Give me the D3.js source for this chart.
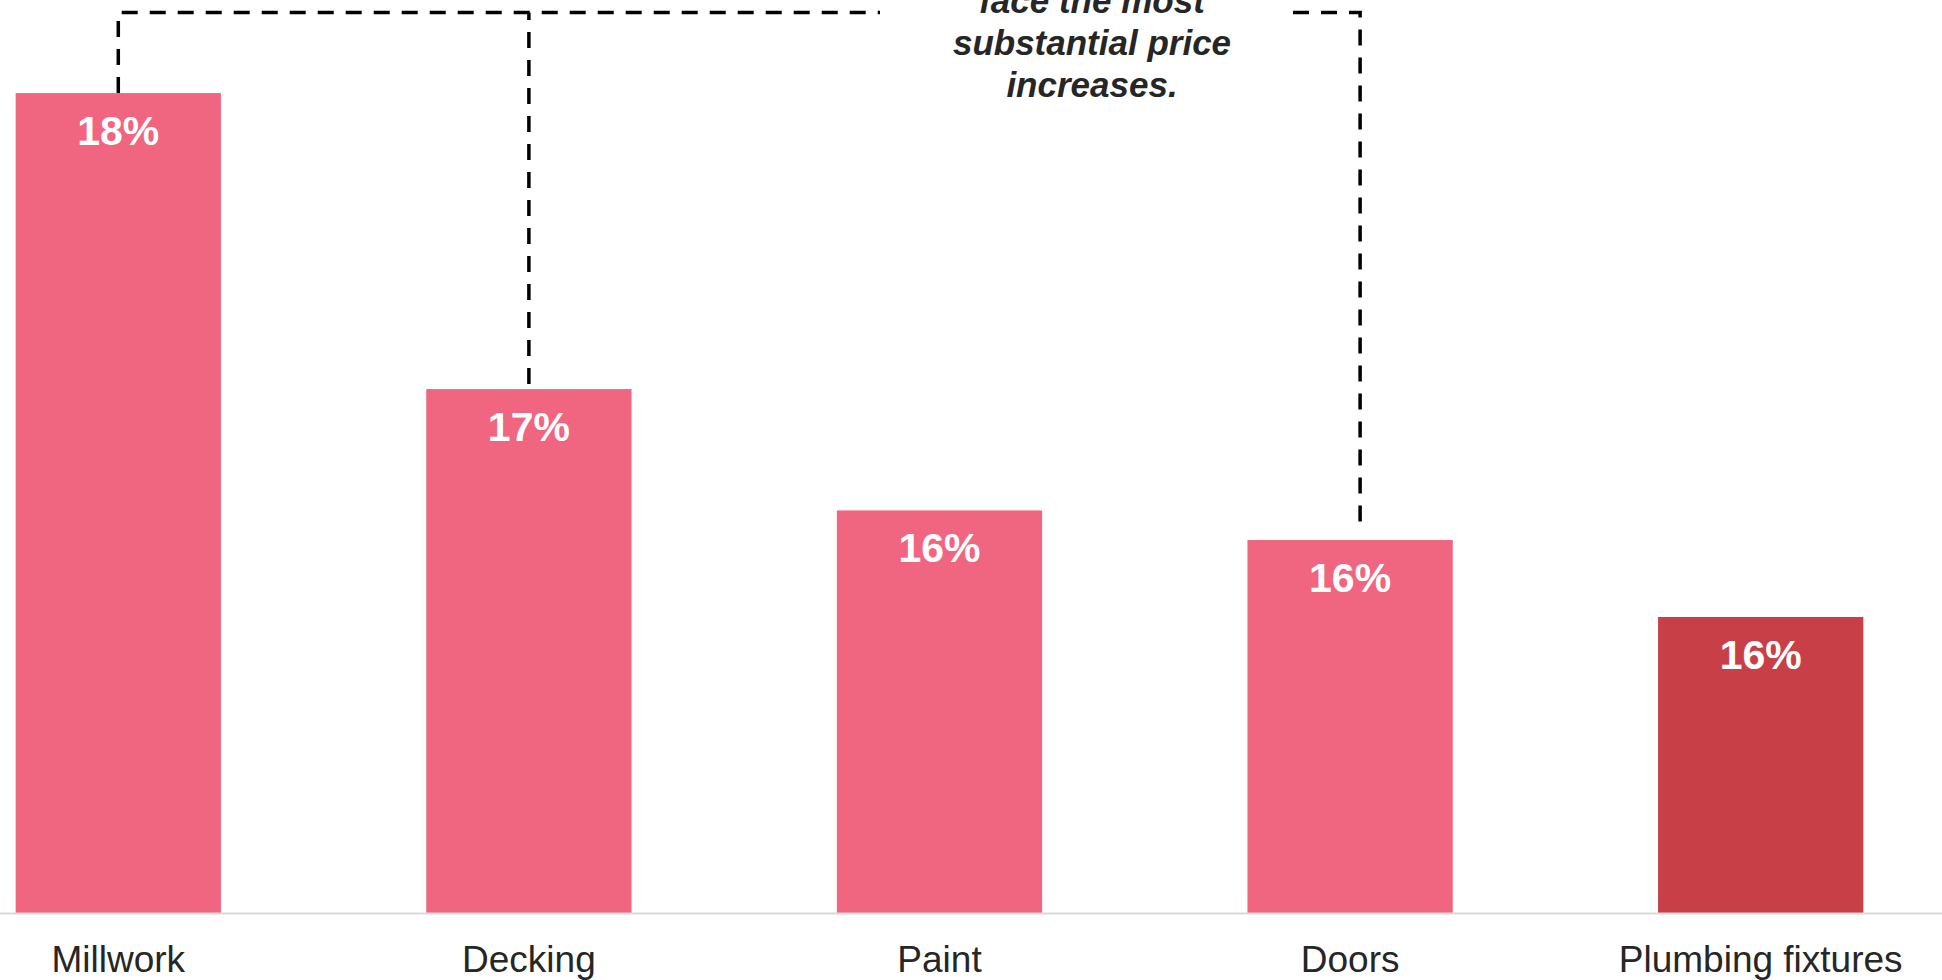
<!DOCTYPE html>
<html>
<head>
<meta charset="utf-8">
<script src="https://cdn.jsdelivr.net/npm/d3@7"></script>
<style>
  html, body { margin: 0; padding: 0; background: #ffffff; overflow: hidden; }
  svg { display: block; }
</style>
</head>
<body>
<svg id="chart" width="1942" height="980"></svg>
<script>
// ---- Data ----
const categories = ["Millwork", "Decking", "Paint", "Doors", "Plumbing fixtures"];
const values = [17.67, 16.67, 16.26, 16.16, 15.9];
const highlighted = [false, false, false, false, true];
const annotationLines = ["face the most", "substantial price", "increases."];

// ---- Layout ----
const W = 1942, H = 980;
const baseline = 913;
const svg = d3.select("#chart");

const x = d3.scaleBand()
  .domain(categories)
  .range([-87, 1966])
  .paddingInner(0.5)
  .paddingOuter(0.25);

const y = d3.scaleLinear()
  .domain([14.9, 18])
  .range([baseline, baseline - 3.1 * 296]);

const pink = "#F06680";
const red = "#C83F48";
const fontFamily = "'Liberation Sans', Arial, Helvetica, sans-serif";

// ---- Bars ----
svg.append("g").selectAll("rect")
  .data(categories)
  .join("rect")
  .attr("x", d => x(d))
  .attr("y", (d, i) => y(values[i]))
  .attr("width", x.bandwidth())
  .attr("height", (d, i) => baseline - y(values[i]))
  .attr("fill", (d, i) => highlighted[i] ? red : pink);

// ---- Baseline ----
svg.append("line")
  .attr("x1", 0).attr("x2", W)
  .attr("y1", baseline + 0.5).attr("y2", baseline + 0.5)
  .attr("stroke", "#d9d9d9")
  .attr("stroke-width", 2);

// ---- Value labels ----
const fmt = v => d3.format(".0f")(v) + "%";
svg.append("g").selectAll("text")
  .data(categories)
  .join("text")
  .attr("x", d => x(d) + x.bandwidth() / 2)
  .attr("y", (d, i) => y(values[i]) + 52)
  .attr("text-anchor", "middle")
  .attr("font-family", fontFamily)
  .attr("font-weight", "bold")
  .attr("font-size", 41)
  .attr("fill", "#ffffff")
  .text((d, i) => fmt(values[i]));

// ---- Category axis labels ----
const xAxis = d3.axisBottom(x).tickSize(0).tickPadding(0);
const gAxis = svg.append("g")
  .attr("transform", `translate(0, ${baseline})`)
  .call(xAxis);
gAxis.select(".domain").remove();
gAxis.selectAll("text")
  .attr("dy", null)
  .attr("y", 59)
  .attr("font-family", fontFamily)
  .attr("font-size", 37)
  .attr("fill", "#262626");

// ---- Annotation ----
const topY = 12.5;
const textCx = 1092;
const cx = c => x(c) + x.bandwidth() / 2;
const vy = c => y(values[categories.indexOf(c)]);

const dashG = svg.append("g")
  .attr("fill", "none")
  .attr("stroke", "#000")
  .attr("stroke-width", 3.5)
  .attr("stroke-dasharray", "16,12");

const p1 = d3.path();
p1.moveTo(cx("Millwork"), vy("Millwork"));
p1.lineTo(cx("Millwork"), topY);
p1.lineTo(textCx - 212, topY);
dashG.append("path").attr("d", p1.toString());

const p2 = d3.path();
p2.moveTo(cx("Decking"), vy("Decking") - 5);
p2.lineTo(cx("Decking"), topY);
dashG.append("path").attr("d", p2.toString());

const p3 = d3.path();
p3.moveTo(textCx + 201, topY);
p3.lineTo(cx("Doors") + 10, topY);
p3.lineTo(cx("Doors") + 10, vy("Doors") - 9);
dashG.append("path").attr("d", p3.toString());

svg.append("g").selectAll("text")
  .data(annotationLines)
  .join("text")
  .attr("x", textCx)
  .attr("y", (d, i) => 13 + i * 42)
  .attr("text-anchor", "middle")
  .attr("font-family", fontFamily)
  .attr("font-weight", "bold")
  .attr("font-style", "italic")
  .attr("font-size", 35)
  .attr("fill", "#262626")
  .text(d => d);
</script>
</body>
</html>
